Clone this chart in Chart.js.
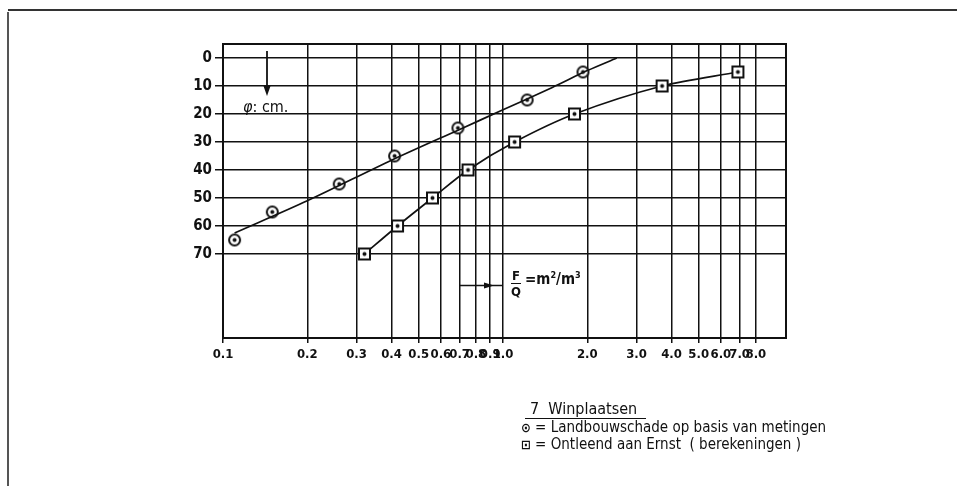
<!DOCTYPE html>
<html>
<head>
<meta charset="utf-8">
<script src="https://cdn.jsdelivr.net/npm/chart.js@4.4.1/dist/chart.umd.min.js"></script>
<style>
  html, body { margin: 0; padding: 0; background: #fff; }
  body { width: 957px; height: 486px; position: relative; overflow: hidden;
         font-family: "Liberation Sans Narrow", "DejaVu Sans Condensed", sans-serif; color: #111; }
  #wrap { position: absolute; left: 0; top: 0; width: 957px; height: 486px; }
  .page-top { position: absolute; left: 8px; top: 9px; width: 949px; height: 1.5px; background: #333; }
  .page-left { position: absolute; left: 7px; top: 12px; width: 1.5px; height: 474px; background: #555; }
  .note { position: absolute; white-space: nowrap; }
  #legend { position: absolute; left: 521px; top: 400px; font-size: 15px; line-height: 17px; }
  #legend .title { margin-left: 4px; padding: 0 9px 1px 5px; border-bottom: 1.5px solid #111; display: inline-block; font-size: 16px; }
  #legend .sym { font-size: 13px; font-weight: bold; }
</style>
</head>
<body>
<div class="page-top"></div>
<div class="page-left"></div>
<div id="wrap"><canvas id="chart"></canvas></div>

<!-- annotations inside the plot -->
<svg class="note" style="left:0;top:0" width="957" height="486">
  <line x1="267" y1="51" x2="267" y2="90" stroke="#111" stroke-width="1.8"/>
  <polygon points="263.5,86 270.5,86 267,96" fill="#111"/>
  <line x1="460" y1="285.5" x2="502" y2="285.5" stroke="#111" stroke-width="1.3"/>
  <polygon points="484,282.5 494,285.5 484,288.5" fill="#111"/>
</svg>
<div class="note" style="left:243px;top:97px;font-size:16px;"><i>φ</i>: cm.</div>
<div class="note" style="left:511px;top:268px;font-size:13px;font-weight:bold;line-height:15px;text-align:center;">
  <div style="border-bottom:1.3px solid #111;padding:0 1px">F</div><div>Q</div>
</div>
<div class="note" style="left:525px;top:270px;font-size:15px;font-weight:bold;">=m<sup style="font-size:9px">2</sup>/m<sup style="font-size:9px">3</sup></div>

<div id="legend">
  <div class="title">7&nbsp; Winplaatsen</div>
  <div><span class="sym">⊙</span> = Landbouwschade op basis van metingen</div>
  <div><span class="sym">⊡</span> = Ontleend aan Ernst &nbsp;( berekeningen )</div>
</div>

<script>
// x axis (F/Q, log scale) tick values and labels
const xTicks = [0.1, 0.2, 0.3, 0.4, 0.5, 0.6, 0.7, 0.8, 0.9, 1, 2, 3, 4, 5, 6, 7, 8];
const xTickLabels = ["0.1", "0.2", "0.3", "0.4", "0.5", "0.6", "0.7", "0.8", "0.9",
                     "1.0", "2.0", "3.0", "4.0", "5.0", "6.0", "7.0", "8.0"];
// y axis (phi in cm, downwards)
const yTicks = [0, 10, 20, 30, 40, 50, 60, 70];

// Landbouwschade op basis van metingen (circles)
const metingX = [0.11, 0.15, 0.26, 0.41, 0.69, 1.22, 1.93];
const metingY = [65, 55, 45, 35, 25, 15, 5];
// hand-drawn fit line through the circles
const fitX = [0.11, 0.2, 0.4, 0.7, 1.0, 1.5, 2.0, 2.55];
const fitY = [62.5, 51, 36.5, 25.5, 18.5, 10.5, 4.5, 0];

// Ontleend aan Ernst (squares)
const ernstX = [0.32, 0.42, 0.56, 0.75, 1.1, 1.8, 3.7, 6.9];
const ernstY = [70, 60, 50, 40, 30, 20, 10, 5];

const ink = "#111";

function toPoints(xs, ys) {
  return xs.map((x, i) => ({ x: x, y: ys[i] }));
}

// marker images: circle with dot, square with dot
function makeMarker(kind) {
  const c = document.createElement("canvas");
  c.width = 15;
  c.height = 15;
  const g = c.getContext("2d");
  g.fillStyle = "#fff";
  g.strokeStyle = ink;
  g.lineWidth = 2;
  if (kind === "circle") {
    g.beginPath();
    g.arc(7.5, 7.5, 5.5, 0, Math.PI * 2);
    g.fill();
    g.stroke();
  } else {
    g.fillRect(2, 2, 11, 11);
    g.strokeRect(2, 2, 11, 11);
  }
  g.fillStyle = ink;
  g.beginPath();
  g.arc(7.5, 7.5, 2, 0, Math.PI * 2);
  g.fill();
  return c;
}

// frame around the plot area
const framePlugin = {
  id: "frame",
  afterDraw(chart) {
    const a = chart.chartArea;
    const ctx = chart.ctx;
    ctx.save();
    ctx.strokeStyle = ink;
    ctx.lineWidth = 2;
    ctx.strokeRect(a.left, a.top, a.right - a.left, a.bottom - a.top);
    ctx.restore();
  }
};

Chart.defaults.font.family = '"Liberation Sans Narrow", "DejaVu Sans Condensed", sans-serif';
Chart.defaults.color = ink;

new Chart(document.getElementById("chart"), {
  type: "scatter",
  data: {
    datasets: [
      {
        label: "fit",
        data: toPoints(fitX, fitY),
        showLine: true,
        borderColor: ink,
        borderWidth: 1.7,
        pointRadius: 0,
        tension: 0.3
      },
      {
        label: "Landbouwschade op basis van metingen",
        data: toPoints(metingX, metingY),
        showLine: false,
        pointStyle: makeMarker("circle")
      },
      {
        label: "Ontleend aan Ernst (berekeningen)",
        data: toPoints(ernstX, ernstY),
        showLine: true,
        borderColor: ink,
        borderWidth: 1.7,
        tension: 0.3,
        pointStyle: makeMarker("square")
      }
    ]
  },
  options: {
    responsive: true,
    maintainAspectRatio: false,
    animation: false,
    layout: { padding: { left: 183, top: 44, right: 171, bottom: 118 } },
    plugins: {
      legend: { display: false },
      tooltip: { enabled: false }
    },
    scales: {
      x: {
        type: "logarithmic",
        min: 0.1,
        max: 10.25,
        afterBuildTicks: (axis) => {
          axis.ticks = xTicks.map((v) => ({ value: v }));
        },
        afterFit: (axis) => { axis.height = 30; },
        ticks: {
          autoSkip: false,
          maxRotation: 0,
          padding: 4,
          font: { size: 13, weight: "bold" },
          callback: (value) => xTickLabels[xTicks.indexOf(value)]
        },
        grid: { color: ink, lineWidth: 1.5, tickLength: 5 },
        border: { color: ink, width: 2 }
      },
      y: {
        type: "linear",
        reverse: true,
        min: -5,
        max: 100,
        afterBuildTicks: (axis) => {
          axis.ticks = yTicks.map((v) => ({ value: v }));
        },
        afterFit: (axis) => { axis.width = 40; },
        ticks: {
          padding: 3,
          font: { size: 15, weight: "bold" }
        },
        grid: { color: ink, lineWidth: 1.5, tickLength: 8 },
        border: { color: ink, width: 2 }
      }
    }
  },
  plugins: [framePlugin]
});
</script>
</body>
</html>
